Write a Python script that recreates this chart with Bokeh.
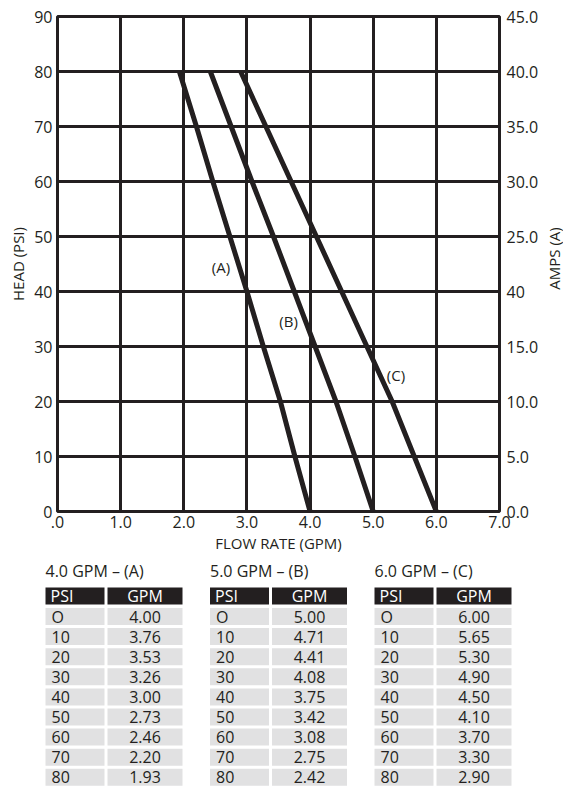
import math
from bokeh.plotting import figure
from bokeh.models import Range1d, LinearAxis, FixedTicker, ColumnDataSource
from bokeh.layouts import row
from bokeh.embed import file_html
from bokeh.resources import INLINE
from bokeh.core.properties import value

# ---------------- data ----------------
psi = [0, 10, 20, 30, 40, 50, 60, 70, 80]
psi_labels = ["O", "10", "20", "30", "40", "50", "60", "70", "80"]
gpm_a = [4.00, 3.76, 3.53, 3.26, 3.00, 2.73, 2.46, 2.20, 1.93]
gpm_b = [5.00, 4.71, 4.41, 4.08, 3.75, 3.42, 3.08, 2.75, 2.42]
gpm_c = [6.00, 5.65, 5.30, 4.90, 4.50, 4.10, 3.70, 3.30, 2.90]
curve_names = ["(A)", "(B)", "(C)"]
curve_label_x = [2.59, 3.66, 5.36]
curve_label_y = [44.5, 34.6, 24.8]
table_titles = ["4.0 GPM \u2013 (A)", "5.0 GPM \u2013 (B)", "6.0 GPM \u2013 (C)"]
table_headers = ["PSI", "GPM"]
right_title = "AMPS (A)"

x_ticks = [0, 1, 2, 3, 4, 5, 6, 7]
x_tick_labels = [".0", "1.0", "2.0", "3.0", "4.0", "5.0", "6.0", "7.0"]
y_ticks = [0, 10, 20, 30, 40, 50, 60, 70, 80, 90]
y_tick_labels = ["0", "10", "20", "30", "40", "50", "60", "70", "80", "90"]
amps_ticks = [0, 5, 10, 15, 20, 25, 30, 35, 40, 45]
amps_tick_labels = ["0.0", "5.0", "10.0", "15.0", "40", "25.0", "30.0", "35.0", "40.0", "45.0"]

INK = "#231f20"
FONT = "Open Sans"
GRAY = "#e1e1e2"

# ---------------- chart ----------------
p = figure(width=541, height=560, x_range=Range1d(0, 7), y_range=Range1d(0, 90),
           output_backend="svg", toolbar_location=None,
           min_border_left=57, min_border_right=39, min_border_top=16, min_border_bottom=49)
p.extra_y_ranges = {"amps": Range1d(0, 45)}

p.outline_line_color = INK
p.outline_line_width = 3
p.outline_line_alpha = 1
p.xgrid.ticker = FixedTicker(ticks=x_ticks)
p.ygrid.ticker = FixedTicker(ticks=y_ticks)
for g in (p.xgrid, p.ygrid):
    g.grid_line_color = INK
    g.grid_line_width = 3
    g.grid_line_alpha = 1

p.xaxis.ticker = FixedTicker(ticks=x_ticks)
p.xaxis.major_label_overrides = dict(zip(x_ticks, x_tick_labels))
p.xaxis.axis_label = "FLOW RATE (GPM)"
p.yaxis.ticker = FixedTicker(ticks=y_ticks)
p.yaxis.major_label_overrides = dict(zip(y_ticks, y_tick_labels))
p.yaxis.axis_label = "HEAD (PSI)"

ax_r = LinearAxis(y_range_name="amps", ticker=FixedTicker(ticks=amps_ticks),
                  major_label_overrides=dict(zip(amps_ticks, amps_tick_labels)))
p.add_layout(ax_r, "right")

for ax in (p.xaxis[0], p.yaxis[0], ax_r):
    ax.axis_line_color = None
    ax.major_tick_line_color = None
    ax.minor_tick_line_color = None
    ax.major_tick_out = 0
    ax.major_tick_in = 0
    ax.minor_tick_out = 0
    ax.minor_tick_in = 0
    ax.major_label_text_font = FONT
    ax.major_label_text_font_size = "16px"
    ax.major_label_text_color = INK
    ax.axis_label_text_font = FONT
    ax.axis_label_text_font_size = "15px"
    ax.axis_label_text_font_style = "normal"
    ax.axis_label_text_color = INK
    ax.major_label_standoff = 5
    ax.axis_label_standoff = 3
ax_r.major_label_standoff = 7
p.xaxis.major_label_standoff = 4
p.xaxis.axis_label_standoff = 2

for gpm in (gpm_a, gpm_b, gpm_c):
    p.line(gpm, psi, line_color=INK, line_width=5, line_cap="butt", line_join="round")

p.text(x=curve_label_x, y=curve_label_y, text=curve_names, text_font=value(FONT),
       text_font_size="15px", text_color=INK, text_align="center", text_baseline="middle")

# narrow strip to the right of the chart carrying the right-hand axis title
r = figure(width=22, height=560, x_range=Range1d(0, 1), y_range=Range1d(0, 90),
           output_backend="svg", toolbar_location=None,
           min_border_left=0, min_border_right=0, min_border_top=16, min_border_bottom=49)
r.axis.visible = False
r.grid.visible = False
r.outline_line_color = None
r.text(x=[0.55], y=[46.0], text=[right_title], angle=90, angle_units="deg",
       text_font=value(FONT), text_font_size="15px", text_color=INK,
       text_align="center", text_baseline="middle")

# ---------------- tables ----------------
W = 563
H = 229
t = figure(width=W, height=H, x_range=Range1d(0, W), y_range=Range1d(H, 0),
           output_backend="svg", toolbar_location=None, min_border=0)
t.axis.visible = False
t.grid.visible = False
t.outline_line_color = None

tab_left = 45.0
tab_step = 164.5
col1_w = 59.0
gap = 3.0
col2_w = 75.0
title_y = 10.0
head_top = 27.0
cell_h = 17.0
row_top0 = 47.5
pitch = 20.1

tables = [gpm_a, gpm_b, gpm_c]
hl, hr, ht, hb = [], [], [], []
cl, cr, ct, cb = [], [], [], []
tx, ty, tt = [], [], []
ttx, tty, ttt, tta = [], [], [], []
hx, hy, htxt, halign = [], [], [], []
for k, vals in enumerate(tables):
    x0 = tab_left + k * tab_step
    x1 = x0 + col1_w
    x2 = x1 + gap
    x3 = x2 + col2_w
    tx.append(x0)
    ty.append(title_y)
    tt.append(table_titles[k])
    for (a, b) in ((x0, x1), (x2, x3)):
        hl.append(a); hr.append(b); ht.append(head_top); hb.append(head_top + cell_h)
    hx += [x0 + 5, (x2 + x3) / 2]
    hy += [head_top + cell_h / 2] * 2
    htxt += table_headers
    halign += ["left", "center"]
    for i, (lab, v) in enumerate(zip(psi_labels, vals)):
        top = row_top0 + i * pitch
        for (a, b) in ((x0, x1), (x2, x3)):
            cl.append(a); cr.append(b); ct.append(top); cb.append(top + cell_h)
        ttx += [x0 + 6, (x2 + x3) / 2]
        tty += [top + cell_h / 2] * 2
        ttt += [lab, f"{v:.2f}"]
        tta += ["left", "center"]

t.quad(left=hl, right=hr, top=ht, bottom=hb, fill_color=INK, line_color=None)
t.quad(left=cl, right=cr, top=ct, bottom=cb, fill_color=GRAY, line_color=None)
t.text(x=tx, y=ty, text=tt, text_font=value(FONT), text_font_size="16px",
       text_color=INK, text_align="left", text_baseline="middle")
t.text(x="x", y="y", text="t", text_align="a",
       source=ColumnDataSource(dict(x=hx, y=hy, t=htxt, a=halign)),
       text_font=value(FONT), text_font_size="16px", text_color="white",
       text_baseline="middle")
t.text(x="x", y="y", text="t", text_align="a",
       source=ColumnDataSource(dict(x=ttx, y=tty, t=ttt, a=tta)),
       text_font=value(FONT), text_font_size="16px", text_color=INK,
       text_baseline="middle")

top_row = row(p, r, spacing=0)
open("out.html", "w").write(file_html([top_row, t], INLINE))
